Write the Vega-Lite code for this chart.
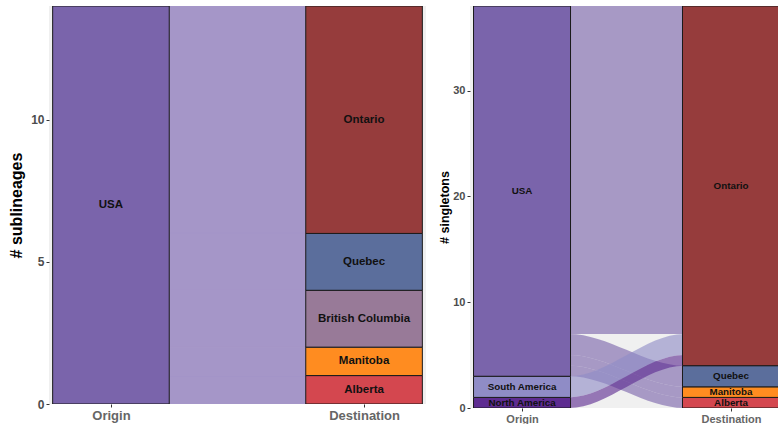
{
  "$schema": "https://vega.github.io/schema/vega-lite/v6.json",
  "padding": {"left": 8, "top": 6, "right": 0, "bottom": 0},
  "bounds": "flush",
  "spacing": 44,
  "config": {
    "view": {"stroke": null, "fill": "#F0F0F0"},
    "font": "Liberation Sans",
    "axis": {"grid": false, "domain": false, "tickColor": "#333333", "tickSize": 3, "labelFontWeight": "bold", "labelColor": "#4D4D4D", "titleFontWeight": "bold", "titleColor": "#000000", "labelFont": "Liberation Sans", "titleFont": "Liberation Sans"}
  },
  "datasets": {
    "strataL": [
      {"x": 1, "stratum": "USA", "lo": 0, "hi": 14},
      {"x": 2, "stratum": "Alberta", "lo": 0, "hi": 1},
      {"x": 2, "stratum": "Manitoba", "lo": 1, "hi": 2},
      {"x": 2, "stratum": "British Columbia", "lo": 2, "hi": 4},
      {"x": 2, "stratum": "Quebec", "lo": 4, "hi": 6},
      {"x": 2, "stratum": "Ontario", "lo": 6, "hi": 14}
    ],
    "flowsL": [
      {"flow": "USA-Alberta", "origin": "USA", "x": 1, "lo": 0, "hi": 1},
      {"flow": "USA-Alberta", "origin": "USA", "x": 1.225, "lo": 0, "hi": 1},
      {"flow": "USA-Alberta", "origin": "USA", "x": 1.775, "lo": 0, "hi": 1},
      {"flow": "USA-Alberta", "origin": "USA", "x": 2, "lo": 0, "hi": 1},
      {"flow": "USA-Manitoba", "origin": "USA", "x": 1, "lo": 1, "hi": 2},
      {"flow": "USA-Manitoba", "origin": "USA", "x": 1.225, "lo": 1, "hi": 2},
      {"flow": "USA-Manitoba", "origin": "USA", "x": 1.775, "lo": 1, "hi": 2},
      {"flow": "USA-Manitoba", "origin": "USA", "x": 2, "lo": 1, "hi": 2},
      {"flow": "USA-BC", "origin": "USA", "x": 1, "lo": 2, "hi": 4},
      {"flow": "USA-BC", "origin": "USA", "x": 1.225, "lo": 2, "hi": 4},
      {"flow": "USA-BC", "origin": "USA", "x": 1.775, "lo": 2, "hi": 4},
      {"flow": "USA-BC", "origin": "USA", "x": 2, "lo": 2, "hi": 4},
      {"flow": "USA-Quebec", "origin": "USA", "x": 1, "lo": 4, "hi": 6},
      {"flow": "USA-Quebec", "origin": "USA", "x": 1.225, "lo": 4, "hi": 6},
      {"flow": "USA-Quebec", "origin": "USA", "x": 1.775, "lo": 4, "hi": 6},
      {"flow": "USA-Quebec", "origin": "USA", "x": 2, "lo": 4, "hi": 6},
      {"flow": "USA-Ontario", "origin": "USA", "x": 1, "lo": 6, "hi": 14},
      {"flow": "USA-Ontario", "origin": "USA", "x": 1.225, "lo": 6, "hi": 14},
      {"flow": "USA-Ontario", "origin": "USA", "x": 1.775, "lo": 6, "hi": 14},
      {"flow": "USA-Ontario", "origin": "USA", "x": 2, "lo": 6, "hi": 14}
    ],
    "strataR": [
      {"x": 1, "stratum": "North America", "lo": 0, "hi": 1},
      {"x": 1, "stratum": "South America", "lo": 1, "hi": 3},
      {"x": 1, "stratum": "USA", "lo": 3, "hi": 38},
      {"x": 2, "stratum": "Alberta", "lo": 0, "hi": 1},
      {"x": 2, "stratum": "Manitoba", "lo": 1, "hi": 2},
      {"x": 2, "stratum": "Quebec", "lo": 2, "hi": 4},
      {"x": 2, "stratum": "Ontario", "lo": 4, "hi": 38}
    ],
    "flowsR": [
      {"flow": "USA-Ontario", "origin": "USA", "x": 1, "lo": 7, "hi": 38},
      {"flow": "USA-Ontario", "origin": "USA", "x": 1.225, "lo": 7, "hi": 38},
      {"flow": "USA-Ontario", "origin": "USA", "x": 1.775, "lo": 7, "hi": 38},
      {"flow": "USA-Ontario", "origin": "USA", "x": 2, "lo": 7, "hi": 38},
      {"flow": "USA-Alberta", "origin": "USA", "x": 1, "lo": 3, "hi": 4},
      {"flow": "USA-Alberta", "origin": "USA", "x": 1.225, "lo": 3, "hi": 4},
      {"flow": "USA-Alberta", "origin": "USA", "x": 1.775, "lo": 0, "hi": 1},
      {"flow": "USA-Alberta", "origin": "USA", "x": 2, "lo": 0, "hi": 1},
      {"flow": "USA-Manitoba", "origin": "USA", "x": 1, "lo": 4, "hi": 5},
      {"flow": "USA-Manitoba", "origin": "USA", "x": 1.225, "lo": 4, "hi": 5},
      {"flow": "USA-Manitoba", "origin": "USA", "x": 1.775, "lo": 1, "hi": 2},
      {"flow": "USA-Manitoba", "origin": "USA", "x": 2, "lo": 1, "hi": 2},
      {"flow": "USA-Quebec", "origin": "USA", "x": 1, "lo": 5, "hi": 7},
      {"flow": "USA-Quebec", "origin": "USA", "x": 1.225, "lo": 5, "hi": 7},
      {"flow": "USA-Quebec", "origin": "USA", "x": 1.775, "lo": 2, "hi": 4},
      {"flow": "USA-Quebec", "origin": "USA", "x": 2, "lo": 2, "hi": 4},
      {"flow": "SA-Ontario", "origin": "South America", "x": 1, "lo": 1, "hi": 3},
      {"flow": "SA-Ontario", "origin": "South America", "x": 1.225, "lo": 1, "hi": 3},
      {"flow": "SA-Ontario", "origin": "South America", "x": 1.775, "lo": 5, "hi": 7},
      {"flow": "SA-Ontario", "origin": "South America", "x": 2, "lo": 5, "hi": 7},
      {"flow": "NA-Ontario", "origin": "North America", "x": 1, "lo": 0, "hi": 1},
      {"flow": "NA-Ontario", "origin": "North America", "x": 1.225, "lo": 0, "hi": 1},
      {"flow": "NA-Ontario", "origin": "North America", "x": 1.775, "lo": 4, "hi": 5},
      {"flow": "NA-Ontario", "origin": "North America", "x": 2, "lo": 4, "hi": 5}
    ]
  },
  "hconcat": [
    {
      "width": 377,
      "height": 398,
      "layer": [
        {
          "data": {"name": "flowsL"},
          "mark": {"type": "area", "interpolate": "monotone", "fill": "#A596C8", "fillOpacity": 1, "stroke": "#A596C8", "strokeWidth": 1, "clip": true},
          "encoding": {
            "x": {"field": "x", "type": "quantitative", "scale": {"domain": [0.775, 2.225], "nice": false, "zero": false},
              "axis": {"values": [1, 2], "labelExpr": "datum.value == 1 ? 'Origin' : 'Destination'", "title": null, "labelFontSize": 13, "labelColor": "#666666", "labelPadding": 2}},
            "y": {"field": "lo", "type": "quantitative", "stack": null, "scale": {"domain": [0, 14], "nice": false},
              "axis": {"values": [0, 5, 10], "title": "# sublineages", "titleFontSize": 16, "labelFontSize": 12, "titlePadding": 6}},
            "y2": {"field": "hi"},
            "detail": {"field": "flow"}
          }
        },
        {
          "data": {"name": "strataL"},
          "mark": {"type": "bar", "width": 116.6, "stroke": "#1A1A1A", "strokeWidth": 1, "clip": true},
          "encoding": {
            "x": {"field": "x", "type": "quantitative"},
            "y": {"field": "lo", "type": "quantitative", "stack": null},
            "y2": {"field": "hi"},
            "fill": {"field": "stratum", "type": "nominal", "legend": null,
              "scale": {"domain": ["USA", "North America", "South America", "Ontario", "Quebec", "British Columbia", "Manitoba", "Alberta"],
                "range": ["#7A64AB", "#5E2C91", "#8F8CC6", "#963C3C", "#5B6E9C", "#987A98", "#FF8C20", "#D4474F"]}}
          }
        },
        {
          "data": {"name": "strataL"},
          "transform": [{"calculate": "(datum.lo + datum.hi) / 2", "as": "mid"}],
          "mark": {"type": "text", "fontWeight": "bold", "fontSize": 11.5, "color": "#111111", "font": "Liberation Sans"},
          "encoding": {
            "x": {"field": "x", "type": "quantitative"},
            "y": {"field": "mid", "type": "quantitative"},
            "text": {"field": "stratum"}
          }
        }
      ]
    },
    {
      "width": 308,
      "height": 402,
      "layer": [
        {
          "data": {"name": "flowsR"},
          "mark": {"type": "area", "interpolate": "monotone", "fillOpacity": 0.62, "clip": true},
          "encoding": {
            "x": {"field": "x", "type": "quantitative", "scale": {"domain": [0.775, 2.201], "nice": false, "zero": false},
              "axis": {"values": [1, 2], "labelExpr": "datum.value == 1 ? 'Origin' : 'Destination'", "title": null, "labelFontSize": 11, "labelColor": "#666666", "labelPadding": 2}},
            "y": {"field": "lo", "type": "quantitative", "stack": null, "scale": {"domain": [0, 38], "nice": false},
              "axis": {"values": [0, 10, 20, 30], "title": "# singletons", "titleFontSize": 12.5, "labelFontSize": 11, "titlePadding": 1}},
            "y2": {"field": "hi"},
            "detail": {"field": "flow"},
            "fill": {"field": "origin", "type": "nominal", "legend": null,
              "scale": {"domain": ["USA", "North America", "South America", "Ontario", "Quebec", "British Columbia", "Manitoba", "Alberta"],
                "range": ["#7A64AB", "#5E2C91", "#8F8CC6", "#963C3C", "#5B6E9C", "#987A98", "#FF8C20", "#D4474F"]}}
          }
        },
        {
          "data": {"name": "strataR"},
          "mark": {"type": "bar", "width": 97, "stroke": "#1A1A1A", "strokeWidth": 1, "clip": true},
          "encoding": {
            "x": {"field": "x", "type": "quantitative"},
            "y": {"field": "lo", "type": "quantitative", "stack": null},
            "y2": {"field": "hi"},
            "fill": {"field": "stratum", "type": "nominal", "legend": null}
          }
        },
        {
          "data": {"name": "strataR"},
          "transform": [{"calculate": "(datum.lo + datum.hi) / 2", "as": "mid"}],
          "mark": {"type": "text", "fontWeight": "bold", "fontSize": 9.8, "color": "#111111", "font": "Liberation Sans", "clip": true},
          "encoding": {
            "x": {"field": "x", "type": "quantitative"},
            "y": {"field": "mid", "type": "quantitative"},
            "text": {"field": "stratum"}
          }
        }
      ]
    }
  ]
}
